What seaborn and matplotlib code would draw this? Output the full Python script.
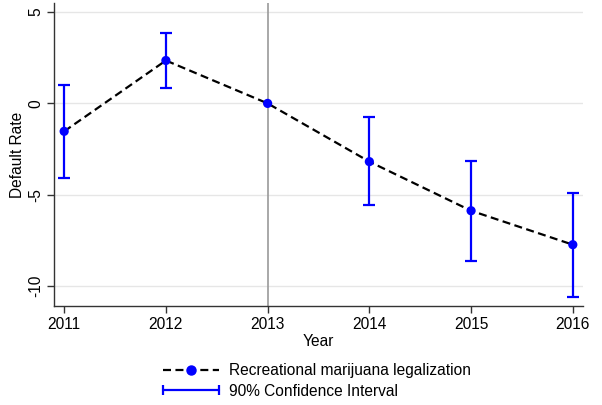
import matplotlib
matplotlib.use("Agg")
import matplotlib.pyplot as plt
from matplotlib.lines import Line2D
from matplotlib.legend_handler import HandlerLine2D
import seaborn as sns
import pandas as pd
import numpy as np

years = [2011, 2012, 2013, 2014, 2015, 2016]
estimate = [-1.53, 2.35, 0.0, -3.19, -5.88, -7.74]
ci_low = [-4.10, 0.86, 0.0, -5.59, -8.62, -10.61]
ci_high = [1.00, 3.83, 0.0, -0.77, -3.16, -4.91]
yticks = [5, 0, -5, -10]

sns.set_style("white")
plt.rcParams["font.family"] = ["Liberation Sans", "DejaVu Sans"]
plt.rcParams["text.color"] = "black"
plt.rcParams["axes.labelcolor"] = "black"
plt.rcParams["xtick.color"] = "black"
plt.rcParams["ytick.color"] = "black"
FS = 11.2
DASH = (0, (3.6, 2.0))

df = pd.DataFrame({"year": years, "est": estimate, "lo": ci_low, "hi": ci_high})

fig = plt.figure(figsize=(6.02, 4.05), dpi=100)
ax = fig.add_axes([0.0897, 0.2444, 0.9684 - 0.0897, 0.9926 - 0.2444])

for v in yticks:
    ax.axhline(v, color="#e6e6e6", lw=1.0, zorder=0)
ax.axvline(2013, color="#9a9a9a", lw=1.2, zorder=1)

# confidence intervals (the reference year has none)
ci = df[df["year"] != 2013]
ax.errorbar(ci["year"], ci["est"],
            yerr=[ci["est"] - ci["lo"], ci["hi"] - ci["est"]],
            fmt="none", ecolor="#0000ff", elinewidth=1.6, capsize=4.2,
            capthick=1.6, zorder=2)

sns.lineplot(data=df, x="year", y="est", ax=ax, color="black", lw=1.6,
             linestyle=DASH, zorder=3)
sns.scatterplot(data=df, x="year", y="est", ax=ax, color="#0000ff", s=44,
                edgecolor="none", zorder=4)

ax.set_xlim(2010.9, 2016.1)
ax.set_ylim(-11.1, 5.5)
ax.set_xticks(years)
ax.set_xticklabels([str(y) for y in years], fontsize=FS)
ax.set_yticks(yticks)
ax.set_yticklabels([str(v) for v in yticks], fontsize=FS, rotation=90, va="center")
ax.tick_params(axis="both", direction="out", length=5, width=1, color="#333333",
               labelcolor="black", left=True, bottom=True, pad=3)
for s in ["top", "right"]:
    ax.spines[s].set_visible(False)
for s in ["left", "bottom"]:
    ax.spines[s].set_color("#333333")
    ax.spines[s].set_linewidth(1.0)

ax.set_xlabel("Year", fontsize=FS, labelpad=1, color="black")
ax.set_ylabel("Default Rate", fontsize=FS, labelpad=2, color="black")

line_h = Line2D([], [], color="black", lw=1.6, linestyle=DASH)
dot_h = Line2D([], [], color="#0000ff", marker="o", markersize=6.5, lw=0)
ci_h = Line2D([], [], color="#0000ff", lw=1.6, marker="|", markersize=7,
              markeredgewidth=1.6)
fig.legend([(line_h, dot_h), ci_h],
           ["Recreational marijuana legalization", "90% Confidence Interval"],
           loc="center", bbox_to_anchor=(0.5266, 0.0593), frameon=False,
           fontsize=FS, handlelength=3.6, handletextpad=0.6,
           labelspacing=0.35, numpoints=1, labelcolor="black",
           handler_map={ci_h: HandlerLine2D(numpoints=2, marker_pad=0)})

fig.savefig("out.png", dpi=100)
